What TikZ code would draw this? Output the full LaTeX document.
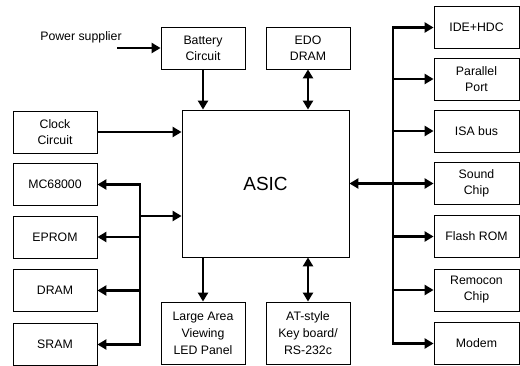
\documentclass[tikz,border=0pt]{standalone}
\usepackage{fontspec}
\setmainfont{Liberation Sans}
\usetikzlibrary{arrows.meta}
\begin{document}
\begin{tikzpicture}[x=1pt,y=-1pt,
  txt/.style={font=\fontsize{12.3}{16}\selectfont, inner sep=0pt},
  box/.style={draw, line width=0.8pt, align=center, inner sep=0pt,
    minimum width=84pt, minimum height=42pt, font=\fontsize{12.3}{16}\selectfont},
  tallbox/.style={box, minimum height=62pt, font=\fontsize{12.3}{17}\selectfont},
  arr/.style={line width=2.6pt, -{Triangle[length=9pt,width=10pt]}},
  darr/.style={line width=2.6pt, {Triangle[length=9pt,width=10pt]}-{Triangle[length=9pt,width=10pt]}},
  bus/.style={line width=2.6pt, line cap=rect}]
\useasboundingbox (0,0) rectangle (520,366);

% top
\node[txt] (ps) at (81,37) {Power supplier};
\node[box] (batt) at (203,48) {Battery\\Circuit};
\node[box] (edo) at (308,48) {EDO\\DRAM};

% ASIC
\node[draw, line width=0.8pt, minimum width=167pt, minimum height=147pt,
  font=\fontsize{19}{22}\selectfont] (asic) at (265.5,183.5) {ASIC};

% left column
\node[box] (clock) at (55,132) {Clock\\Circuit};
\node[box] (mc) at (55,184.5) {MC68000};
\node[box] (eprom) at (55,237) {EPROM};
\node[box] (dram) at (55,290.5) {DRAM};
\node[box] (sram) at (55,344.5) {SRAM};

% bottom
\node[tallbox] (led) at (203,333) {Large Area\\Viewing\\LED Panel};
\node[tallbox] (at) at (308,333) {AT-style\\Key board/\\RS-232c};

% right column
\node[box, minimum width=85pt] (ide) at (476.5,27.5) {IDE+HDC};
\node[box, minimum width=85pt] (par) at (476.5,79) {Parallel\\Port};
\node[box, minimum width=85pt] (isa) at (476.5,131) {ISA bus};
\node[box, minimum width=85pt] (snd) at (476.5,183.5) {Sound\\Chip};
\node[box, minimum width=85pt] (flash) at (476.5,236.5) {Flash ROM};
\node[box, minimum width=85pt] (rem) at (476.5,290) {Remocon\\Chip};
\node[box, minimum width=85pt] (modem) at (476.5,343.5) {Modem};

% top connectors
\coordinate (pse) at (117,48);
\draw[arr] (pse) -- (batt.west);
\draw[arr] (batt.south) -- (batt.south |- asic.north);
\draw[darr] (edo.south) -- (edo.south |- asic.north);

% bottom connectors
\draw[arr] (led.north |- asic.south) -- (led.north);
\draw[darr] (at.north |- asic.south) -- (at.north);

% left connectors
\draw[arr] (clock.east) -- (clock.east -| asic.west);
\coordinate (lbx) at (140,0);
\coordinate (lbj) at (140,216);
\draw[bus] (lbx |- mc.east) -- (lbx |- sram.east);
\draw[arr] (lbj) -- (lbj -| asic.west);
\foreach \n in {mc,eprom,dram,sram}
  \draw[arr] (lbx |- \n.east) -- (\n.east);

% right connectors
\coordinate (rbx) at (393,0);
\draw[bus] (rbx |- ide.west) -- (rbx |- modem.west);
\draw[darr] (asic.east |- snd.west) -- (snd.west);
\foreach \n in {ide,par,isa,flash,rem,modem}
  \draw[arr] (rbx |- \n.west) -- (\n.west);
\end{tikzpicture}
\end{document}
